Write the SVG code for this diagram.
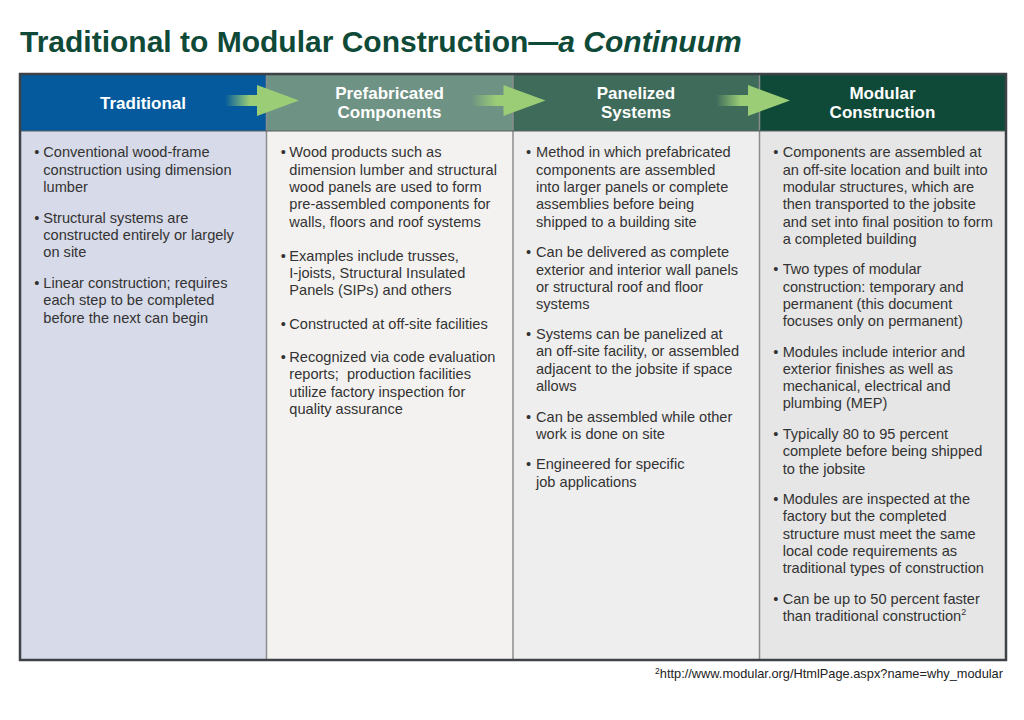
<svg xmlns="http://www.w3.org/2000/svg" width="1024" height="720" viewBox="0 0 1024 720">
<style>
.title{font-family:"Liberation Sans",Arial,sans-serif;font-size:30px;font-weight:bold;fill:#0f4a38}
.hd{font-family:"Liberation Sans",Arial,sans-serif;font-size:17px;font-weight:bold;fill:#ffffff;text-anchor:middle}
.bd{font-family:"Liberation Sans",Arial,sans-serif;font-size:14.6px;fill:#333333}
.fn{font-family:"Liberation Sans",Arial,sans-serif;font-size:12.8px;fill:#222222}
.div{stroke:#8a8c8e;stroke-width:1.5}
.arrow{fill:#9acd76}
</style>
<defs>
<linearGradient id="tail" x1="0" y1="0" x2="1" y2="0">
<stop offset="0" stop-color="#9acd76" stop-opacity="0"/>
<stop offset="0.75" stop-color="#9acd76" stop-opacity="1"/>
<stop offset="1" stop-color="#9acd76" stop-opacity="1"/>
</linearGradient>
</defs>
<rect width="1024" height="720" fill="#ffffff"/>
<text class="title" x="20" y="52">Traditional to Modular Construction—<tspan font-style="italic">a Continuum</tspan></text>

<g id="col-traditional">
<rect x="20" y="74" width="246.5" height="57" fill="#045a9c"/>
<rect x="20" y="131" width="246.5" height="529" fill="#d7dae8"/>
<text class="hd" x="143" y="109" font-size="18px">Traditional</text>
<text class="bd"><tspan x="34.2" y="157.3">•</tspan><tspan x="43.3" y="157.3">Conventional wood-frame</tspan><tspan x="43.3" dy="17.3">construction using dimension</tspan><tspan x="43.3" dy="17.3">lumber</tspan></text>
<text class="bd"><tspan x="34.2" y="222.7">•</tspan><tspan x="43.3" y="222.7">Structural systems are</tspan><tspan x="43.3" dy="17.3">constructed entirely or largely</tspan><tspan x="43.3" dy="17.3">on site</tspan></text>
<text class="bd"><tspan x="34.2" y="287.9">•</tspan><tspan x="43.3" y="287.9">Linear construction; requires</tspan><tspan x="43.3" dy="17.3">each step to be completed</tspan><tspan x="43.3" dy="17.3">before the next can begin</tspan></text>
</g>

<g id="col-prefabricated">
<rect x="266.5" y="74" width="246.5" height="57" fill="#6e9283"/>
<rect x="266.5" y="131" width="246.5" height="529" fill="#f3f2f1"/>
<text class="hd"><tspan x="389.5" y="98.5">Prefabricated</tspan><tspan x="389.5" y="118">Components</tspan></text>
<text class="bd"><tspan x="280.8" y="157.3">•</tspan><tspan x="289.3" y="157.3">Wood products such as</tspan><tspan x="289.3" dy="17.3">dimension lumber and structural</tspan><tspan x="289.3" dy="17.3">wood panels are used to form</tspan><tspan x="289.3" dy="17.3">pre-assembled components for</tspan><tspan x="289.3" dy="17.3">walls, floors and roof systems</tspan></text>
<text class="bd"><tspan x="280.8" y="260.7">•</tspan><tspan x="289.3" y="260.7">Examples include trusses,</tspan><tspan x="289.3" dy="17.3">I-joists, Structural Insulated</tspan><tspan x="289.3" dy="17.3">Panels (SIPs) and others</tspan></text>
<text class="bd"><tspan x="280.8" y="328.7">•</tspan><tspan x="289.3" y="328.7">Constructed at off-site facilities</tspan></text>
<text class="bd"><tspan x="280.8" y="362">•</tspan><tspan x="289.3" y="362">Recognized via code evaluation</tspan><tspan x="289.3" dy="17.3">reports;&#160; production facilities</tspan><tspan x="289.3" dy="17.3">utilize factory inspection for</tspan><tspan x="289.3" dy="17.3">quality assurance</tspan></text>
</g>

<g id="col-panelized">
<rect x="513" y="74" width="246.5" height="57" fill="#3e6b5a"/>
<rect x="513" y="131" width="246.5" height="529" fill="#efeeef"/>
<text class="hd"><tspan x="636" y="98.5">Panelized</tspan><tspan x="636" y="118">Systems</tspan></text>
<text class="bd"><tspan x="526" y="157.3">•</tspan><tspan x="536" y="157.3">Method in which prefabricated</tspan><tspan x="536" dy="17.3">components are assembled</tspan><tspan x="536" dy="17.3">into larger panels or complete</tspan><tspan x="536" dy="17.3">assemblies before being</tspan><tspan x="536" dy="17.3">shipped to a building site</tspan></text>
<text class="bd"><tspan x="526" y="257.3">•</tspan><tspan x="536" y="257.3">Can be delivered as complete</tspan><tspan x="536" dy="17.3">exterior and interior wall panels</tspan><tspan x="536" dy="17.3">or structural roof and floor</tspan><tspan x="536" dy="17.3">systems</tspan></text>
<text class="bd"><tspan x="526" y="339">•</tspan><tspan x="536" y="339">Systems can be panelized at</tspan><tspan x="536" dy="17.3">an off-site facility, or assembled</tspan><tspan x="536" dy="17.3">adjacent to the jobsite if space</tspan><tspan x="536" dy="17.3">allows</tspan></text>
<text class="bd"><tspan x="526" y="421.7">•</tspan><tspan x="536" y="421.7">Can be assembled while other</tspan><tspan x="536" dy="17.3">work is done on site</tspan></text>
<text class="bd"><tspan x="526" y="469.3">•</tspan><tspan x="536" y="469.3">Engineered for specific</tspan><tspan x="536" dy="17.3">job applications</tspan></text>
</g>

<g id="col-modular">
<rect x="759.5" y="74" width="246.5" height="57" fill="#0f4a38"/>
<rect x="759.5" y="131" width="246.5" height="529" fill="#e6e6e6"/>
<text class="hd"><tspan x="882.5" y="98.5">Modular</tspan><tspan x="882.5" y="118">Construction</tspan></text>
<text class="bd"><tspan x="773.2" y="157.3">•</tspan><tspan x="782.7" y="157.3">Components are assembled at</tspan><tspan x="782.7" dy="17.3">an off-site location and built into</tspan><tspan x="782.7" dy="17.3">modular structures, which are</tspan><tspan x="782.7" dy="17.3">then transported to the jobsite</tspan><tspan x="782.7" dy="17.3">and set into final position to form</tspan><tspan x="782.7" dy="17.3">a completed building</tspan></text>
<text class="bd"><tspan x="773.2" y="274.3">•</tspan><tspan x="782.7" y="274.3">Two types of modular</tspan><tspan x="782.7" dy="17.3">construction: temporary and</tspan><tspan x="782.7" dy="17.3">permanent (this document</tspan><tspan x="782.7" dy="17.3">focuses only on permanent)</tspan></text>
<text class="bd"><tspan x="773.2" y="356.5">•</tspan><tspan x="782.7" y="356.5">Modules include interior and</tspan><tspan x="782.7" dy="17.3">exterior finishes as well as</tspan><tspan x="782.7" dy="17.3">mechanical, electrical and</tspan><tspan x="782.7" dy="17.3">plumbing (MEP)</tspan></text>
<text class="bd"><tspan x="773.2" y="439">•</tspan><tspan x="782.7" y="439">Typically 80 to 95 percent</tspan><tspan x="782.7" dy="17.3">complete before being shipped</tspan><tspan x="782.7" dy="17.3">to the jobsite</tspan></text>
<text class="bd"><tspan x="773.2" y="504">•</tspan><tspan x="782.7" y="504">Modules are inspected at the</tspan><tspan x="782.7" dy="17.3">factory but the completed</tspan><tspan x="782.7" dy="17.3">structure must meet the same</tspan><tspan x="782.7" dy="17.3">local code requirements as</tspan><tspan x="782.7" dy="17.3">traditional types of construction</tspan></text>
<text class="bd"><tspan x="773.2" y="604">•</tspan><tspan x="782.7" y="604">Can be up to 50 percent faster</tspan><tspan x="782.7" dy="17.3">than traditional construction</tspan><tspan font-size="9px" dy="-6">2</tspan></text>
</g>

<g id="grid">
<line class="div" x1="266.5" y1="74" x2="266.5" y2="660"/>
<line class="div" x1="513" y1="74" x2="513" y2="660"/>
<line class="div" x1="759.5" y1="74" x2="759.5" y2="660"/>
<line x1="20" y1="131" x2="1006" y2="131" stroke="#5a5e62" stroke-width="1"/>
<rect x="20" y="74" width="986" height="586" fill="none" stroke="#3e4246" stroke-width="2.5"/>
</g>

<g id="connectors">
<rect x="225" y="95" width="33" height="11" fill="url(#tail)"/>
<polygon class="arrow" points="257,85 299,100.5 257,116"/>
<rect x="471.5" y="95" width="33" height="11" fill="url(#tail)"/>
<polygon class="arrow" points="503.5,85 545.5,100.5 503.5,116"/>
<rect x="716" y="95" width="33" height="11" fill="url(#tail)"/>
<polygon class="arrow" points="748,85 790,100.5 748,116"/>
</g>

<text class="fn" x="1003" y="678" text-anchor="end"><tspan font-size="8.5px" dy="-4">2</tspan><tspan dy="4">http://www.modular.org/HtmlPage.aspx?name=why_modular</tspan></text>
</svg>
